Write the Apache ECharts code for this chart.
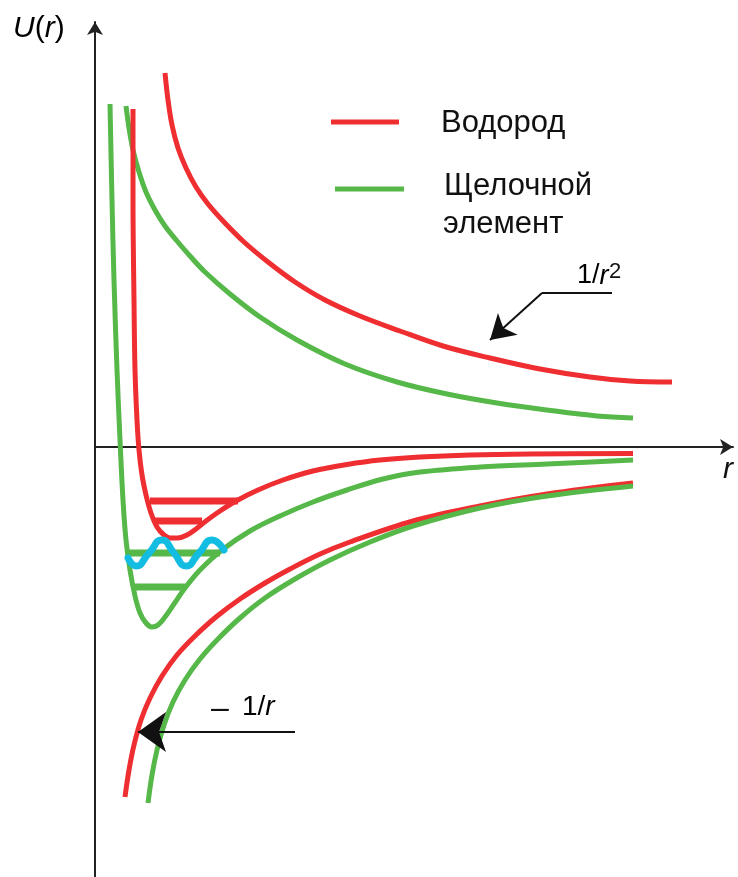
<!DOCTYPE html>
<html>
<head>
<meta charset="utf-8">
<style>
  html, body { margin: 0; padding: 0; background: #fff; }
  #chart { width: 738px; height: 877px; }
</style>
<script src="https://cdn.jsdelivr.net/npm/echarts@6/dist/echarts.min.js"></script>
</head>
<body>
<div id="chart"></div>
<script>
// Potential energy U(r): hydrogen vs. alkali element (schematic units)

// 1/r^2 centrifugal term
const hRepR = [7.0, 7.3, 7.7, 8.3, 9.1, 10.1, 11.3, 12.9, 14.9, 17.3, 20.0, 23.0, 26.5, 30.5, 34.8, 39.5, 44.5, 49.5, 53.5, 57.7];
const hRepU = [37.4, 34.7, 32.2, 29.9, 27.9, 26.0, 24.3, 22.5, 20.5, 18.5, 16.5, 14.7, 13.1, 11.6, 10.1, 8.9, 7.8, 7.0, 6.6, 6.5];
const aRepR = [3.1, 3.4, 3.8, 4.4, 5.1, 6.0, 7.0, 8.2, 9.5, 11.0, 13.5, 16.5, 20.2, 25.0, 30.2, 35.2, 40.2, 45.2, 50.2, 53.8];
const aRepU = [34.1, 31.9, 29.7, 27.5, 25.5, 23.7, 22.1, 20.6, 19.1, 17.5, 15.3, 13.0, 10.7, 8.3, 6.5, 5.3, 4.4, 3.7, 3.1, 2.9];

// effective potential wells
const hWellR = [3.8, 3.8, 3.9, 4.0, 4.2, 4.4, 4.7, 5.1, 5.6, 6.2, 6.9, 7.5, 8.3, 9.2, 10.1, 11.1, 12.5, 14.2, 16.3, 18.8, 21.8, 25.2, 28.5, 32.5, 37.5, 43.5, 53.8];
const hWellU = [33.8, 24.7, 14.7, 7.7, 2.7, -0.3, -2.8, -4.8, -6.6, -8.0, -8.8, -9.1, -9.1, -8.8, -8.2, -7.4, -6.4, -5.35, -4.3, -3.3, -2.4, -1.75, -1.3, -1.0, -0.8, -0.7, -0.65];
const aWellR = [1.5, 1.7, 1.9, 2.2, 2.5, 2.8, 3.1, 3.5, 4.0, 4.5, 5.1, 5.7, 6.3, 7.0, 7.9, 9.0, 10.5, 12.7, 15.5, 18.5, 21.8, 25.2, 28.8, 32.5, 38.5, 45.2, 53.8];
const aWellU = [34.3, 24.7, 16.7, 7.7, 0.7, -5.3, -9.3, -12.3, -14.9, -16.6, -17.6, -18.0, -17.8, -17.0, -15.7, -14.1, -12.3, -10.3, -8.4, -6.9, -5.5, -4.3, -3.2, -2.5, -2.0, -1.7, -1.3];

// -1/r Coulomb term
const hCoulR = [3.0, 3.4, 3.9, 4.6, 5.5, 6.7, 8.2, 10.0, 12.1, 14.5, 17.0, 19.5, 22.5, 25.5, 31.8, 38.5, 45.2, 53.8];
const hCoulU = [-35.0, -32.3, -29.8, -27.3, -25.1, -22.9, -20.8, -18.9, -17.0, -15.2, -13.6, -12.2, -10.7, -9.5, -7.4, -5.9, -4.7, -3.6];
const aCoulR = [5.3, 5.7, 6.2, 6.9, 7.8, 9.0, 10.5, 12.3, 14.5, 17.0, 20.0, 23.5, 27.5, 31.8, 38.5, 45.2, 53.8];
const aCoulU = [-35.6, -32.8, -30.3, -27.8, -25.5, -23.3, -21.2, -19.2, -17.1, -15.1, -13.2, -11.3, -9.5, -7.9, -6.1, -4.9, -3.9];

// bound energy levels: [rStart, rEnd, U]
const hLevels = [[5.5, 14.3, -5.4], [5.9, 10.7, -7.4]];
const aLevels = [[3.3, 12.5, -10.6], [3.9, 9.0, -14.0]];

// photon (wavy line)
const waveR = [3.3, 4.1, 5.4, 6.7, 7.9, 9.1, 10.4, 11.7, 12.9];
const waveU = [-11.1, -11.9, -10.6, -9.3, -10.6, -11.9, -10.6, -9.3, -10.3];

// annotation arrows
const arrowRep = { start: [51.7, 15.4], knee: [44.7, 15.4], tip: [39.5, 10.7] };
const arrowCoul = { start: [20.0, -28.5], tip: [4.3, -28.5] };

const RED = '#EE2E31';
const GREEN = '#55B848';
const CYAN = '#13BDE2';
const INK = '#111';
const FONT = '"Liberation Sans", Arial, sans-serif';

const zip = (xs, ys) => xs.map((x, i) => [x, ys[i]]);

function curve(name, xs, ys, color, width, smooth) {
  return {
    type: 'line', name: name, data: zip(xs, ys),
    showSymbol: false, symbol: 'none', smooth: smooth, silent: true,
    lineStyle: { color: color, width: width, cap: 'butt', join: 'round' },
    emphasis: { disabled: true }, animation: false, z: 3
  };
}

function levels(name, arr, color) {
  return arr.map((l, i) => ({
    type: 'line', name: name + i, data: [[l[0], l[2]], [l[1], l[2]]],
    showSymbol: false, symbol: 'none', silent: true,
    lineStyle: { color: color, width: 7, cap: 'butt' },
    emphasis: { disabled: true }, animation: false, z: 2
  }));
}

const arrowSeries = {
  type: 'line', name: 'arrows', data: [], silent: true, animation: false,
  markLine: {
    silent: true, animation: false, symbol: ['none', 'none'],
    label: { show: false },
    lineStyle: { color: INK, width: 2, type: 'solid' },
    emphasis: { disabled: true },
    data: [
      [{ coord: arrowRep.start, symbol: 'none' }, { coord: arrowRep.knee, symbol: 'none' }],
      [{ coord: arrowRep.knee, symbol: 'none' }, { coord: arrowRep.tip, symbol: 'arrow', symbolSize: [22, 24] }],
      [{ coord: arrowCoul.start, symbol: 'none' }, { coord: arrowCoul.tip, symbol: 'arrow', symbolSize: [30, 28] }]
    ]
  }
};

const chart = echarts.init(document.getElementById('chart'), null, { renderer: 'canvas' });

const axisLine = {
  show: true, onZero: true,
  symbol: ['none', 'arrow'], symbolSize: [12, 13],
  lineStyle: { color: '#222', width: 2 }
};

chart.setOption({
  backgroundColor: '#fff',
  animation: false,
  grid: { left: 95, right: 5, top: 22, bottom: 0, containLabel: false },
  xAxis: {
    type: 'value', min: 0, max: 63.8,
    axisLine: axisLine, axisTick: { show: false }, axisLabel: { show: false }, splitLine: { show: false }
  },
  yAxis: {
    type: 'value', min: -43, max: 42.5,
    axisLine: axisLine, axisTick: { show: false }, axisLabel: { show: false }, splitLine: { show: false }
  },
  series: [
    curve('Водород 1/r²', hRepR, hRepU, RED, 5, 0.35),
    curve('Щелочной элемент 1/r²', aRepR, aRepU, GREEN, 5, 0.35),
    curve('Водород U', hWellR, hWellU, RED, 5, 0.35),
    curve('Щелочной элемент U', aWellR, aWellU, GREEN, 5, 0.35),
    curve('Водород −1/r', hCoulR, hCoulU, RED, 5, 0.35),
    curve('Щелочной элемент −1/r', aCoulR, aCoulU, GREEN, 5, 0.35),
    ...levels('hLevel', hLevels, RED),
    ...levels('aLevel', aLevels, GREEN),
    Object.assign(curve('photon', waveR, waveU, CYAN, 7, 0.55), { z: 4, lineStyle: { color: CYAN, width: 7, cap: 'round', join: 'round' } }),
    arrowSeries
  ],
  graphic: [
    // legend
    { type: 'rect', shape: { x: 331, y: 119.5, width: 68, height: 5 }, style: { fill: RED }, silent: true },
    { type: 'text', x: 441, y: 123, style: { text: 'Водород', font: '31px ' + FONT, fill: INK, textVerticalAlign: 'middle' }, silent: true },
    { type: 'rect', shape: { x: 335, y: 186.5, width: 69, height: 5 }, style: { fill: GREEN }, silent: true },
    { type: 'text', x: 444, y: 186, style: { text: 'Щелочной', font: '31px ' + FONT, fill: INK, textVerticalAlign: 'middle' }, silent: true },
    { type: 'text', x: 443, y: 224, style: { text: 'элемент', font: '31px ' + FONT, fill: INK, textVerticalAlign: 'middle' }, silent: true },
    // axis titles
    { type: 'text', x: 13, y: 29, silent: true, style: {
        text: '{i|U}{n|(}{i|r}{n|)}', textVerticalAlign: 'middle',
        rich: {
          i: { fontFamily: FONT, fontSize: 30, fontStyle: 'italic', color: INK },
          n: { fontFamily: FONT, fontSize: 30, color: INK }
        } } },
    { type: 'text', x: 723, y: 470, silent: true, style: { text: 'r', font: 'italic 30px ' + FONT, fill: INK, textVerticalAlign: 'middle' } },
    // curve labels
    { type: 'text', x: 577, y: 276, silent: true, style: {
        text: '{n|1/}{i|r}', textVerticalAlign: 'middle',
        rich: {
          i: { fontFamily: FONT, fontSize: 27, fontStyle: 'italic', color: INK },
          n: { fontFamily: FONT, fontSize: 27, color: INK }
        } } },
    { type: 'text', x: 609, y: 261, silent: true, style: { text: '2', font: '22px ' + FONT, fill: INK, textVerticalAlign: 'top' } },
    { type: 'text', x: 211, y: 709, silent: true, style: { text: '–', font: '32px ' + FONT, fill: INK, textVerticalAlign: 'middle' } },
    { type: 'text', x: 242, y: 707, silent: true, style: {
        text: '{n|1/}{i|r}', textVerticalAlign: 'middle',
        rich: {
          i: { fontFamily: FONT, fontSize: 28, fontStyle: 'italic', color: INK },
          n: { fontFamily: FONT, fontSize: 28, color: INK }
        } } }
  ]
});
</script>
</body>
</html>
